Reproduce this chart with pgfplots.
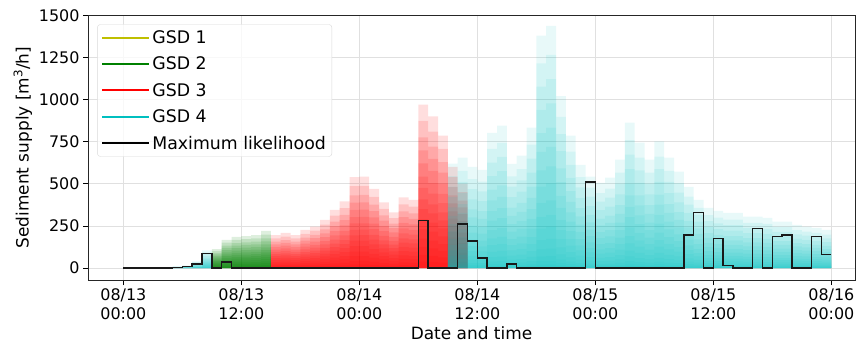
\documentclass[border=0pt]{standalone}
\usepackage{fontspec}
\setmainfont{DejaVu Sans}
\usepackage{pgfplots}
\pgfplotsset{compat=1.18}
\usepackage{pgfplotstable}

\definecolor{mplY}{rgb}{0.75,0.75,0}
\definecolor{mplG}{rgb}{0,0.5,0}
\definecolor{mplR}{rgb}{1,0,0}
\definecolor{mplC}{rgb}{0,0.75,0.75}

% upper envelope (largest ensemble value) of each hourly step, per GSD
\pgfplotstableread{
h m
5 10
6 15
7 40
8 105
9 105
}\cyanA
\pgfplotstableread{
h m
9 113
10 167
11 185
12 190
13 196
14 220
15 220
}\green
\pgfplotstableread{
h m
15 196
16 208
17 196
18 226
19 246
20 286
21 345
22 395
23 540
24 542
25 470
26 390
27 330
28 420
29 405
30 970
31 900
32 786
33 600
34 500
35 500
}\red
\pgfplotstableread{
h m
33 620
34 655
35 600
36 583
37 803
38 845
39 619
40 667
41 833
42 1380
43 1437
44 1020
45 786
46 613
47 543
48 506
49 536
50 643
51 863
52 744
53 643
54 752
55 655
56 573
57 482
58 405
59 357
60 340
61 327
62 327
63 305
64 305
65 298
66 276
67 276
68 256
69 246
70 238
71 226
72 226
}\cyanB
\pgfplotstableread{
h v
0 0
5 3
6 8
7 25
8 85
9 0
10 35
11 0
30 281
31 0
34 260
35 160
36 60
37 0
39 25
40 0
47 512
48 0
57 196
58 330
59 0
60 175
61 14
62 0
64 236
65 0
66 187
67 195
68 0
70 187
71 81
72 81
}\ml

\begin{document}
\begin{tikzpicture}
\useasboundingbox (0,0) rectangle (856bp,342bp);
\begin{axis}[
  at={(88bp,62bp)}, anchor=south west,
  scale only axis, width=767bp, height=265bp,
  xmin=-3.6, xmax=74.4, ymin=-71, ymax=1502,
  xtick={0,12,24,36,48,60,72},
  xticklabels={{08/13\\00:00},{08/13\\12:00},{08/14\\00:00},{08/14\\12:00},{08/15\\00:00},{08/15\\12:00},{08/16\\00:00}},
  xticklabel style={align=center, font=\fontsize{16}{19}\selectfont},
  yticklabel style={font=\fontsize{16}{19}\selectfont},
  ytick={0,250,500,750,1000,1250,1500},
  /pgf/number format/assume math mode=true,
  /pgf/number format/1000 sep={},
  scaled y ticks=false,
  grid=major, grid style={black!12, line width=0.7bp},
  tick align=outside, tick pos=left,
  major tick length=5bp,
  tick style={black, line width=0.8bp},
  axis line style={black!85, line width=0.8bp},
  xlabel={Date and time},
  ylabel={Sediment supply [m\textsuperscript{3}/h]},
  label style={font=\fontsize{17}{20}\selectfont},
  legend style={at={(0.012,0.965)}, anchor=north west, draw=black!15,
    rounded corners=3bp, fill=white, fill opacity=0.8, text opacity=1,
    font=\fontsize{17.4}{20}\selectfont, row sep=8bp,
    inner xsep=4bp, inner ysep=4bp, cells={anchor=west}},
  legend image code/.code={\draw[#1] (0bp,0bp) -- (37bp,0bp); \path (0bp,0bp) -- (47bp,0bp);},
  legend cell align=left,
]
\addlegendimage{mplY, line width=2bp}\addlegendentry{GSD 1}
\addlegendimage{mplG, line width=2bp}\addlegendentry{GSD 2}
\addlegendimage{mplR, line width=2bp}\addlegendentry{GSD 3}
\addlegendimage{mplC, line width=2bp}\addlegendentry{GSD 4}
\addlegendimage{black, line width=1.5bp}\addlegendentry{Maximum likelihood}

\pgfplotsinvokeforeach{1,0.9,0.8,0.72,0.64,0.56,0.49,0.42,0.36,0.3,0.24,0.18,0.13,0.08,0.04}{
  \addplot[forget plot, const plot, draw=none, fill=mplG, fill opacity=0.13]
    table[x=h, y expr=\thisrow{m}*#1] {\green} \closedcycle;
  \addplot[forget plot, const plot, draw=none, fill=mplR, fill opacity=0.13]
    table[x=h, y expr=\thisrow{m}*#1] {\red} \closedcycle;
}
\pgfplotsinvokeforeach{1,0.88,0.78,0.68,0.58,0.5,0.42,0.35,0.28,0.22,0.17,0.12,0.08,0.05,0.03,0.015}{
  \addplot[forget plot, const plot, draw=none, fill=mplC, fill opacity=0.09]
    table[x=h, y expr=\thisrow{m}*#1] {\cyanA} \closedcycle;
  \addplot[forget plot, const plot, draw=none, fill=mplC, fill opacity=0.09]
    table[x=h, y expr=\thisrow{m}*#1] {\cyanB} \closedcycle;
}
\addplot[forget plot, const plot, black!90, line width=1.5bp] table[x=h, y=v] {\ml};
\end{axis}
\end{tikzpicture}
\end{document}
